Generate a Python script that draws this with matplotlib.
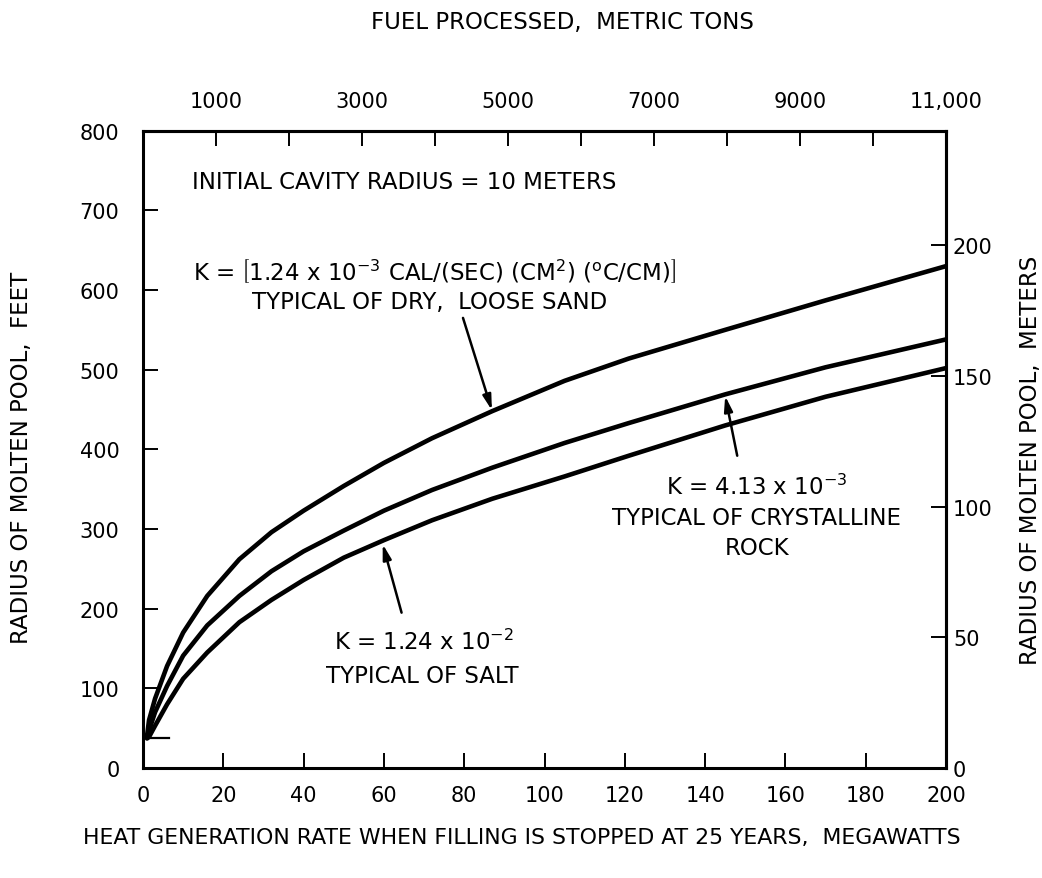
import matplotlib
matplotlib.use('Agg')
import matplotlib.pyplot as plt

# heat generation rate (MW) and radius of molten pool (ft)
mw = [1, 1.5, 3, 6, 10, 16, 24, 32, 40, 50, 60, 72, 87, 105, 121, 145, 170, 200]
sand_ft = [40, 60, 87, 128, 170, 216, 262, 296, 323, 354, 383, 414, 448, 486, 514, 550, 587, 630]
rock_ft = [38, 47, 70, 103, 141, 179, 216, 247, 272, 298, 323, 349, 377, 408, 433, 469, 503, 538]
salt_ft = [37, 39, 53, 80, 112, 145, 183, 211, 236, 264, 286, 311, 338, 366, 392, 430, 466, 502]

# short line marking the initial cavity radius
cavity_x = [0, 6.5]
cavity_ft = [38, 38]

x_ticks = list(range(0, 201, 20))
y_ticks = list(range(0, 801, 100))
m_ticks = [0, 50, 100, 150, 200]
fuel_ticks = list(range(1000, 11001, 1000))
fuel_labels = ['1000', '', '3000', '', '5000', '', '7000', '', '9000', '', '11,000']
TONS_PER_MW = 55.0
FT_PER_M = 3.281

plt.rcParams['font.family'] = ['DejaVu Sans']
plt.rcParams['mathtext.default'] = 'regular'

W, H = 1042, 879
fig = plt.figure(figsize=(W / 100, H / 100), dpi=100)
ax = fig.add_axes([143 / W, 1 - 769 / H, (946 - 143) / W, (769 - 131.7) / H])

lw = 3.3
ax.plot(mw, sand_ft, color='black', lw=lw, solid_capstyle='round', solid_joinstyle='round')
ax.plot(mw, rock_ft, color='black', lw=lw, solid_capstyle='round', solid_joinstyle='round')
ax.plot(mw, salt_ft, color='black', lw=lw, solid_capstyle='round', solid_joinstyle='round')
ax.plot(cavity_x, cavity_ft, color='black', lw=1.6)

ax.set_xlim(0, 200)
ax.set_ylim(0, 800)
ax.set_xticks(x_ticks)
ax.set_yticks(y_ticks)
for s in ax.spines.values():
    s.set_linewidth(2.2)
ax.tick_params(direction='in', length=11, width=1.4, labelsize=15)
ax.tick_params(axis='x', pad=12)
ax.tick_params(axis='y', pad=17)

top = ax.secondary_xaxis('top', functions=(lambda x: x * TONS_PER_MW, lambda t: t / TONS_PER_MW))
top.set_xticks(fuel_ticks)
top.set_xticklabels(fuel_labels)
top.tick_params(direction='in', length=11, width=1.4, labelsize=15, pad=14)
top.spines['top'].set_linewidth(2.2)

right = ax.secondary_yaxis('right', functions=(lambda f: f / FT_PER_M, lambda m: m * FT_PER_M))
right.set_yticks(m_ticks)
right.tick_params(direction='in', length=11, width=1.4, labelsize=15, pad=5)
right.spines['right'].set_linewidth(2.2)

fs = 16.5
ax.text(12.2, 728, 'INITIAL CAVITY RADIUS = 10 METERS', fontsize=fs, va='baseline', ha='left')
ax.text(12.5, 614,
        r'K = $\left[1.24\ x\ 10^{-3}\ CAL/(SEC)\ (CM^{2})\ (^{o}C/CM)\right]$',
        fontsize=fs, va='baseline', ha='left')
ax.text(71.5, 578, 'TYPICAL OF DRY,  LOOSE SAND', fontsize=fs, va='baseline', ha='center')

ax.text(152.9, 344, r'K = 4.13 x 10$^{-3}$', fontsize=fs, va='baseline', ha='center')
ax.text(152.9, 306, 'TYPICAL OF CRYSTALLINE', fontsize=fs, va='baseline', ha='center')
ax.text(152.9, 268.5, 'ROCK', fontsize=fs, va='baseline', ha='center')

ax.text(70, 149, r'K = 1.24 x 10$^{-2}$', fontsize=fs, va='baseline', ha='center')
ax.text(69.5, 108, 'TYPICAL OF SALT', fontsize=fs, va='baseline', ha='center')

arrow = dict(arrowstyle='-|>,head_length=0.9,head_width=0.25', color='black', lw=1.8,
             shrinkA=0, shrinkB=0)
ax.annotate('', xy=(86.9, 449), xytext=(79.7, 565), arrowprops=arrow)
ax.annotate('', xy=(145, 467), xytext=(148, 392), arrowprops=arrow)
ax.annotate('', xy=(59.7, 281), xytext=(64.4, 195), arrowprops=arrow)

fig.text(562 / W, 1 - 22 / H, 'FUEL PROCESSED,  METRIC TONS', fontsize=fs, ha='center', va='center')
fig.text(522 / W, 1 - 838 / H, 'HEAT GENERATION RATE WHEN FILLING IS STOPPED AT 25 YEARS,  MEGAWATTS',
         fontsize=15.8, ha='center', va='center')
fig.text(22 / W, 1 - 458 / H, 'RADIUS OF MOLTEN POOL,  FEET', fontsize=fs, rotation=90,
         ha='center', va='center')
fig.text(1030 / W, 1 - 460 / H, 'RADIUS OF MOLTEN POOL,  METERS', fontsize=fs, rotation=90,
         ha='center', va='center')

fig.savefig('out.png', dpi=100)
